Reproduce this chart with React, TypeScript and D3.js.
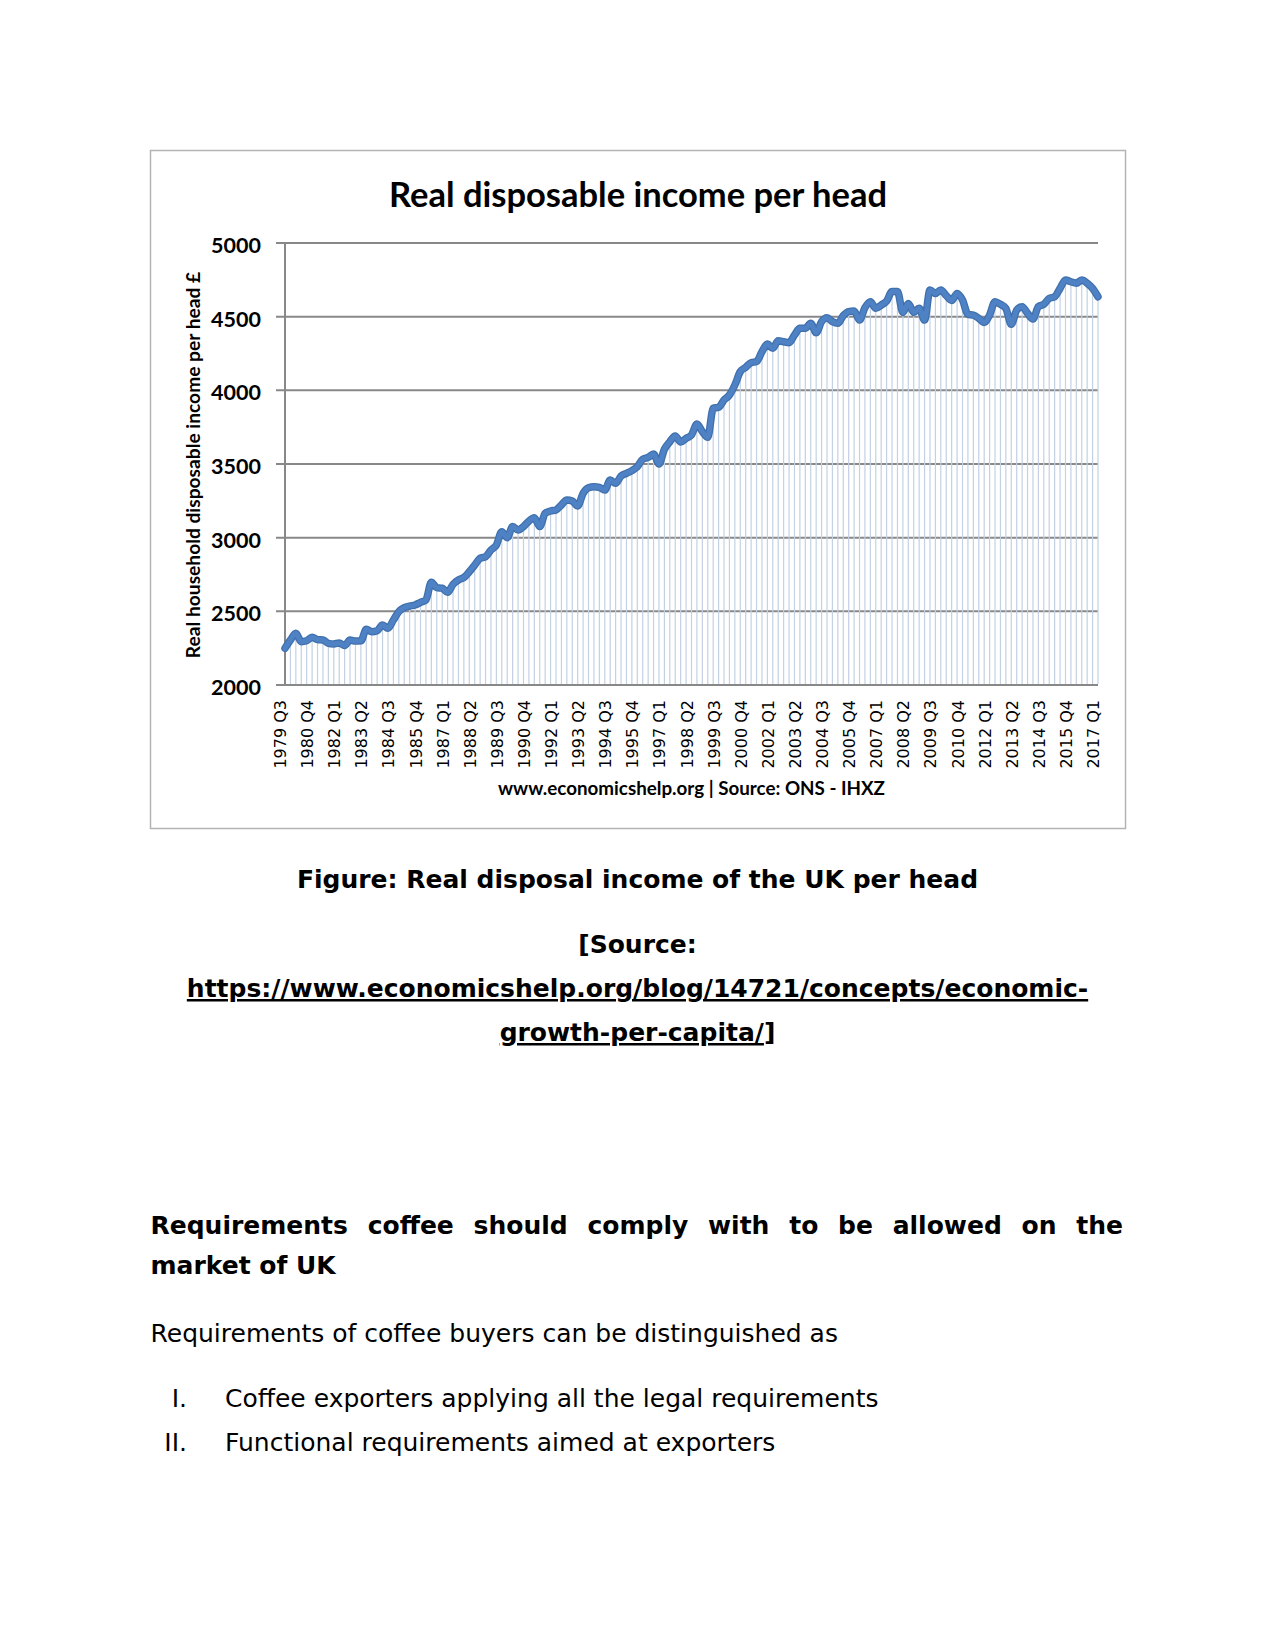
import * as d3 from "d3";
import { useEffect, useRef } from "react";

// quarterly series, starting 1979 Q3
const startYear = 1979;
const startQuarter = 3;

const income1979to1989 = [
  2249, 2305, 2351, 2294, 2300, 2324, 2308, 2305, 2283, 2279, 2285, 2268, 2305,
  2298, 2300, 2378, 2362, 2369, 2407, 2385, 2441, 2498, 2525, 2536, 2543, 2561,
  2577, 2697, 2661, 2657, 2629, 2683, 2713, 2729, 2769, 2814, 2860, 2871, 2916,
  2950, 3041,
];
const income1989to1999 = [
  3000, 3075, 3052, 3075, 3113, 3136, 3075, 3165, 3181, 3188, 3222, 3256, 3249,
  3215, 3301, 3339, 3346, 3341, 3323, 3391, 3369, 3418, 3437, 3455, 3482, 3532,
  3545, 3568, 3500, 3600, 3651, 3690, 3650, 3674, 3697, 3771, 3719, 3681, 3878,
  3885,
];
const income2000to2009 = [
  3934, 3968, 4036, 4127, 4156, 4188, 4195, 4262, 4314, 4285, 4337, 4330, 4323,
  4375, 4421, 4421, 4455, 4391, 4466, 4493, 4466, 4455, 4507, 4534, 4538, 4477,
  4561, 4602, 4557, 4579, 4606, 4670, 4670, 4529, 4590, 4529, 4557, 4477, 4681,
  4658,
];
const income2009to2017 = [
  4681, 4643, 4610, 4658, 4613, 4516, 4511, 4489, 4461, 4511, 4602, 4584, 4557,
  4448, 4545, 4568, 4523, 4484, 4568, 4584, 4624, 4635, 4692, 4749, 4737, 4727,
  4749, 4727, 4692, 4635,
];

const yTicks = [2000, 2500, 3000, 3500, 4000, 4500, 5000];

const xTickLabels = [
  "1979 Q3", "1980 Q4", "1982 Q1", "1983 Q2", "1984 Q3", "1985 Q4", "1987 Q1",
  "1988 Q2", "1989 Q3", "1990 Q4", "1992 Q1", "1993 Q2", "1994 Q3", "1995 Q4",
  "1997 Q1", "1998 Q2", "1999 Q3", "2000 Q4", "2002 Q1", "2003 Q2", "2004 Q3",
  "2005 Q4", "2007 Q1", "2008 Q2", "2009 Q3", "2010 Q4", "2012 Q1", "2013 Q2",
  "2014 Q3", "2015 Q4", "2017 Q1",
];

const values = [
  ...income1979to1989,
  ...income1989to1999,
  ...income2000to2009,
  ...income2009to2017,
];

const quarters = values.map((_, i) => {
  const n = startQuarter - 1 + i;
  return `${startYear + Math.floor(n / 4)} Q${(n % 4) + 1}`;
});

const chartFont = "Lato, 'Open Sans', sans-serif";
const docFont = "'DejaVu Sans', Verdana, sans-serif";

export default function App() {
  const svgRef = useRef<SVGSVGElement>(null);

  useEffect(() => {
    if (!svgRef.current) return;
    const svg = d3.select(svgRef.current);
    svg.selectAll("*").remove();

    const width = 1275;
    const height = 1651;
    svg.attr("width", width).attr("height", height);

    svg.append("rect").attr("width", width).attr("height", height).attr("fill", "#fff");

    // chart frame
    svg
      .append("rect")
      .attr("x", 150.5)
      .attr("y", 150.5)
      .attr("width", 975)
      .attr("height", 678)
      .attr("fill", "#fff")
      .attr("stroke", "#b4b4b4")
      .attr("stroke-width", 1.5);

    const plot = { left: 285, right: 1098, top: 243, bottom: 685 };

    const x = d3
      .scalePoint<string>()
      .domain(quarters)
      .range([plot.left, plot.right]);

    const y = d3.scaleLinear().domain([2000, 5000]).range([plot.bottom, plot.top]);

    // title
    svg
      .append("text")
      .attr("x", 638)
      .attr("y", 207)
      .attr("text-anchor", "middle")
      .attr("font-family", chartFont)
      .attr("font-weight", 700)
      .attr("font-size", 34.5)
      .attr("fill", "#000")
      .text("Real disposable income per head");

    // gridlines
    svg
      .append("g")
      .selectAll("line")
      .data(yTicks)
      .enter()
      .append("line")
      .attr("x1", plot.left - 9)
      .attr("x2", plot.right)
      .attr("y1", (d) => y(d))
      .attr("y2", (d) => y(d))
      .attr("stroke", "#888")
      .attr("stroke-width", 2);

    // drop lines
    svg
      .append("g")
      .selectAll("line")
      .data(values)
      .enter()
      .append("line")
      .attr("x1", (d, i) => x(quarters[i])!)
      .attr("x2", (d, i) => x(quarters[i])!)
      .attr("y1", (d) => y(d))
      .attr("y2", plot.bottom - 1)
      .attr("stroke", "#c3d1e4")
      .attr("stroke-width", 1.2);

    // left axis
    svg
      .append("line")
      .attr("x1", plot.left)
      .attr("x2", plot.left)
      .attr("y1", plot.top)
      .attr("y2", plot.bottom)
      .attr("stroke", "#888")
      .attr("stroke-width", 2);

    // y tick labels
    svg
      .append("g")
      .selectAll("text")
      .data(yTicks)
      .enter()
      .append("text")
      .attr("x", 261)
      .attr("y", (d) => y(d) + 2)
      .attr("dominant-baseline", "central")
      .attr("text-anchor", "end")
      .attr("font-family", chartFont)
      .attr("font-weight", 700)
      .attr("font-size", 21.5)
      .text((d) => d);

    // y axis title
    svg
      .append("text")
      .attr("transform", `translate(200,${(plot.top + plot.bottom) / 2 + 1}) rotate(-90)`)
      .attr("text-anchor", "middle")
      .attr("font-family", chartFont)
      .attr("font-weight", 700)
      .attr("font-size", 19.2)
      .text("Real household disposable income per head £");

    // x tick labels
    svg
      .append("g")
      .selectAll("text")
      .data(xTickLabels)
      .enter()
      .append("text")
      .attr("transform", (d) => `translate(${x(d)! + 1},700) rotate(-90)`)
      .attr("text-anchor", "end")
      .attr("font-family", docFont)
      .attr("font-size", 16)
      .attr("fill", "#000")
      .text((d) => d);

    // series line
    const line = d3
      .line<number>()
      .x((d, i) => x(quarters[i])!)
      .y((d) => y(d))
      .curve(d3.curveMonotoneX);

    svg
      .append("path")
      .datum(values)
      .attr("d", line)
      .attr("fill", "none")
      .attr("stroke", "#3f70ad")
      .attr("stroke-width", 7.5)
      .attr("stroke-linejoin", "round")
      .attr("stroke-linecap", "round");

    svg
      .append("path")
      .datum(values)
      .attr("d", line)
      .attr("fill", "none")
      .attr("stroke", "#4f82c4")
      .attr("stroke-width", 5)
      .attr("stroke-linejoin", "round")
      .attr("stroke-linecap", "round");

    // source footer
    svg
      .append("text")
      .attr("x", (plot.left + plot.right) / 2)
      .attr("y", 795)
      .attr("text-anchor", "middle")
      .attr("font-family", chartFont)
      .attr("font-weight", 700)
      .attr("font-size", 18.8)
      .text("www.economicshelp.org | Source: ONS - IHXZ");

    // document text below the figure
    const doc = svg
      .append("g")
      .attr("font-family", docFont)
      .attr("font-size", 25)
      .attr("fill", "#000");

    doc
      .append("text")
      .attr("x", 637.5)
      .attr("y", 888)
      .attr("text-anchor", "middle")
      .attr("font-weight", 700)
      .text("Figure: Real disposal income of the UK per head");

    doc
      .append("text")
      .attr("x", 637.5)
      .attr("y", 953)
      .attr("text-anchor", "middle")
      .attr("font-weight", 700)
      .text("[Source:");

    doc
      .append("text")
      .attr("x", 637.5)
      .attr("y", 997)
      .attr("text-anchor", "middle")
      .attr("font-weight", 700)
      .style("text-decoration", "underline")
      .text("https://www.economicshelp.org/blog/14721/concepts/economic-");

    const last = doc
      .append("text")
      .attr("x", 637.5)
      .attr("y", 1041)
      .attr("text-anchor", "middle")
      .attr("font-weight", 700);
    last.append("tspan").style("text-decoration", "underline").text("growth-per-capita/");
    last.append("tspan").text("]");

    // justified heading line
    const heading = doc
      .append("text")
      .attr("x", 150.5)
      .attr("y", 1234)
      .attr("font-weight", 700)
      .text("Requirements coffee should comply with to be allowed on the");
    const natural = (heading.node() as SVGTextElement).getComputedTextLength();
    const gaps = 9;
    heading.attr("word-spacing", Math.max(0, (1123 - 150.5 - natural) / gaps));

    doc
      .append("text")
      .attr("x", 150.5)
      .attr("y", 1274)
      .attr("font-weight", 700)
      .text("market of UK");

    doc
      .append("text")
      .attr("x", 150.5)
      .attr("y", 1342)
      .text("Requirements of coffee buyers can be distinguished as");

    const items = [
      ["I.", "Coffee exporters applying all the legal requirements"],
      ["II.", "Functional requirements aimed at exporters"],
    ];
    items.forEach(([num, txt], i) => {
      doc
        .append("text")
        .attr("x", 187)
        .attr("y", 1407 + i * 44)
        .attr("text-anchor", "end")
        .text(num);
      doc
        .append("text")
        .attr("x", 225)
        .attr("y", 1407 + i * 44)
        .text(txt);
    });

    return () => {
      svg.selectAll("*").remove();
    };
  }, []);

  return (
    <svg
      ref={svgRef}
      style={{ position: "absolute", left: 0, top: 0, display: "block" }}
    />
  );
}
